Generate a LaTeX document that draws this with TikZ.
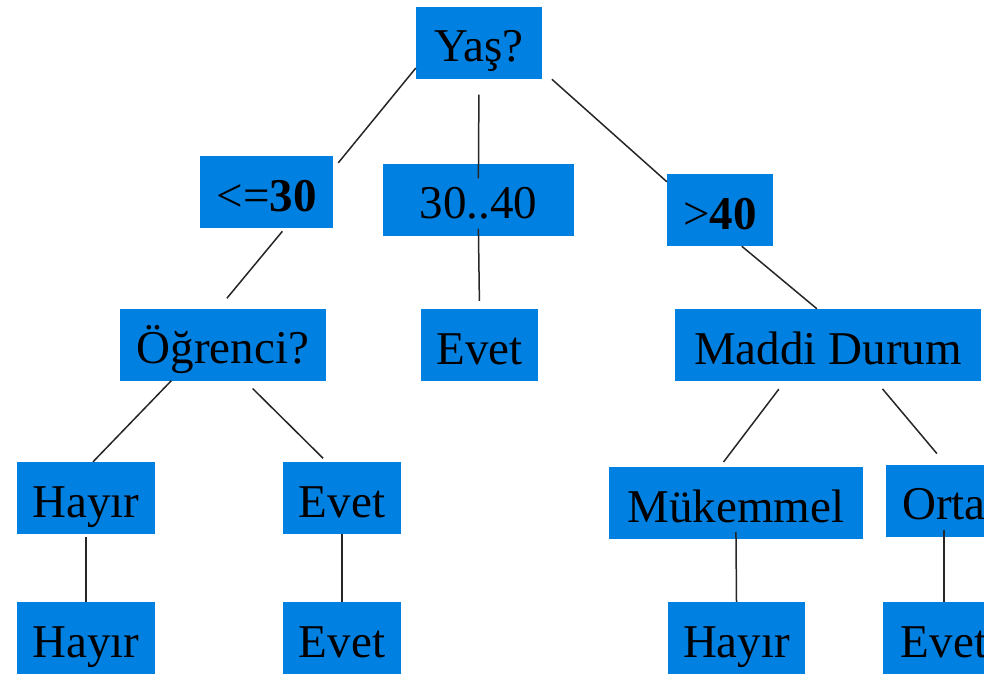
\documentclass[tikz,border=0pt]{standalone}
\usepackage{fontspec}
\setmainfont{Liberation Serif}
\definecolor{nodeblue}{HTML}{0080E0}
\begin{document}
\begin{tikzpicture}[x=1pt,y=-1pt,
    box/.style={fill=nodeblue,inner sep=0pt,minimum height=72pt,
      text height=38pt,text depth=0pt,font=\fontsize{47}{50}\selectfont},
    edge/.style={line width=1.5pt,black!85}]
      \clip (0,0) rectangle (984,673);
      \draw
        (479,42.5) node[box,minimum width=126pt] (yas){Yaş?}
        (266.5,192) node[box,minimum width=133pt] (le30){<=\textbf{30}}
        (478.5,199.5) node[box,minimum width=191pt] (mid){30..40}
        (720,210) node[box,minimum width=106pt] (gt40){>\textbf{40}}
        (223,344.5) node[box,minimum width=206pt] (ogr){Öğrenci?}
        (479.5,345) node[box,minimum width=117pt] (evet1){Evet}
        (828,345) node[box,minimum width=306pt] (maddi){Maddi Durum}
        (86,498) node[box,minimum width=138pt] (hayir1){Hayır}
        (342,498) node[box,minimum width=118pt] (evet2){Evet}
        (736,503) node[box,minimum width=254pt] (muk){Mükemmel}
        (944,500.5) node[box,minimum width=116pt] (orta){Orta}
        (86,638) node[box,minimum width=138pt] (hayir2){Hayır}
        (342,638) node[box,minimum width=118pt] (evet3){Evet}
        (736.5,638) node[box,minimum width=137pt] (hayir3){Hayır}
        (944,638) node[box,minimum width=122pt] (evet4){Evet};
      \begin{scope}[edge]
        \draw[shorten >=8pt] (yas.202) to (le30.19);
        \draw[shorten <=16pt,shorten >=-15pt] (yas.south) to (mid.north);
        \draw[shorten <=-7pt,shorten >=8pt] (mid.south) to (evet1.north);
        \draw[shorten <=13pt] (yas.336) to (gt40.152);
        \draw[shorten <=4pt,shorten >=13pt] (le30.297) to (ogr.97);
        \draw (gt40.301) to (maddi.107);
        \draw (ogr.215) to (hayir1.79);
        \draw[shorten <=11pt,shorten >=5pt] (ogr.301) to (evet2.113);
        \draw[shorten <=10pt,shorten >=6pt] (maddi.220) to (muk.114);
        \draw[shorten <=10pt,shorten >=14pt] (maddi.323) to (orta.87);
        \draw[shorten <=3pt] (hayir1.south) to (hayir2.north);
        \draw (evet2.south) to (evet3.north);
        \draw[shorten <=-7pt] (muk.south) to (hayir3.north);
        \draw[shorten <=-7pt] (orta.south) to (evet4.north);
      \end{scope}
    \end{tikzpicture}
\end{document}
